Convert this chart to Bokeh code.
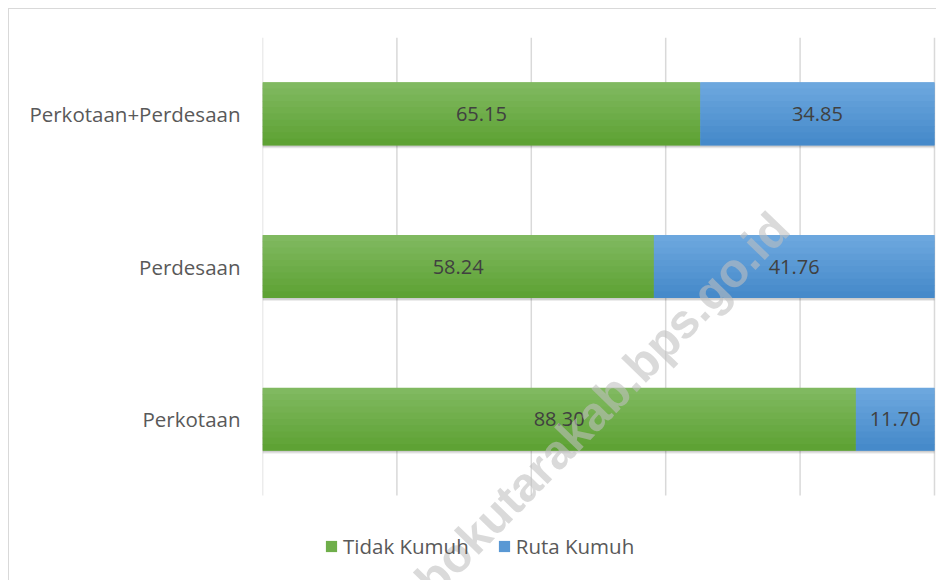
from bokeh.plotting import figure
from bokeh.models import ColumnDataSource, Range1d, FixedTicker, Legend, LegendItem, Label
from bokeh.transform import dodge
from bokeh.core.properties import value
from bokeh.embed import file_html
from bokeh.resources import INLINE

# Data (bottom to top)
categories = ["Perkotaan", "Perdesaan", "Perkotaan+Perdesaan"]
tidak_kumuh = [88.30, 58.24, 65.15]
ruta_kumuh = [11.70, 41.76, 34.85]
series_names = ["Tidak Kumuh", "Ruta Kumuh"]
grid_ticks = [0, 20, 40, 60, 80, 100]

# gradient colours (top -> bottom)
GREEN_TOP, GREEN_BOT = (0x80, 0xB9, 0x60), (0x5E, 0xA2, 0x34)
BLUE_TOP, BLUE_BOT = (0x6C, 0xA7, 0xDE), (0x46, 0x8A, 0xCA)

ypos = [i + 0.5 for i in range(len(categories))]
n_cat = len(categories)

src = ColumnDataSource(dict(
    ypos=ypos,
    tidak=tidak_kumuh,
    ruta=ruta_kumuh,
    zero=[0] * n_cat,
    total=[a + b for a, b in zip(tidak_kumuh, ruta_kumuh)],
    tidak_mid=[a / 2 for a in tidak_kumuh],
    ruta_mid=[a + b / 2 for a, b in zip(tidak_kumuh, ruta_kumuh)],
    tidak_lbl=[f"{v:.2f}" for v in tidak_kumuh],
    ruta_lbl=[f"{v:.2f}" for v in ruta_kumuh],
))

p = figure(
    y_range=Range1d(-0.563, n_cat),
    x_range=Range1d(0, 100.3),
    width=928, height=572,
    output_backend="svg", toolbar_location=None,
    min_border_left=253, min_border_right=1, min_border_top=28, min_border_bottom=0,
)
p.styles = {"margin-left": "8px", "margin-top": "8px",
            "border-top": "1px solid #d9d9d9", "border-left": "1px solid #d9d9d9"}
p.outline_line_color = None
p.background_fill_color = "white"
p.border_fill_color = "white"

# axes / grid
p.xaxis.visible = False
p.xgrid.visible = False
p.ygrid.visible = False
yax = p.yaxis[0]
yax.ticker = FixedTicker(ticks=ypos)
yax.major_label_overrides = {y: c for y, c in zip(ypos, categories)}
yax.axis_line_color = None
yax.major_tick_line_color = None
yax.minor_tick_line_color = None
yax.major_tick_out = 0
yax.major_tick_in = 0
yax.major_label_standoff = 22
yax.major_label_text_font = "Open Sans"
yax.major_label_text_font_size = "20.5px"
yax.major_label_text_color = "#595959"

# vertical grid lines over the category band
p.segment(x0=grid_ticks, y0=[0] * len(grid_ticks), x1=grid_ticks, y1=[n_cat] * len(grid_ticks),
          line_color="#d9d9d9", line_width=1.5)

BAR_H = 0.41
N_SLICES = 10

# shadow
p.hbar(y=dodge("ypos", -0.02), left="zero", right="total", height=BAR_H,
       source=src, fill_color="black", fill_alpha=0.10, line_color=None)
p.hbar(y=dodge("ypos", -0.012), left="zero", right="total", height=BAR_H,
       source=src, fill_color="black", fill_alpha=0.10, line_color=None)


def mix(c1, c2, t):
    return "#%02X%02X%02X" % tuple(round(a + (b - a) * t) for a, b in zip(c1, c2))


# main stacked bars (base, used for the legend)
rs = p.hbar_stack(["tidak", "ruta"], y="ypos", height=BAR_H,
                  color=[mix(GREEN_TOP, GREEN_BOT, 0.5), mix(BLUE_TOP, BLUE_BOT, 0.5)],
                  source=src, line_color=None)

# vertical gradient slices over each segment
sh = BAR_H / N_SLICES
for j in range(N_SLICES):
    off = BAR_H / 2 - sh * (j + 0.5)
    t = j / (N_SLICES - 1)
    p.hbar(y=dodge("ypos", off), left="zero", right="tidak", height=sh * 1.08,
           source=src, fill_color=mix(GREEN_TOP, GREEN_BOT, t), line_color=None)
    p.hbar(y=dodge("ypos", off), left="tidak", right="total", height=sh * 1.08,
           source=src, fill_color=mix(BLUE_TOP, BLUE_BOT, t), line_color=None)

for xcol, tcol in (("tidak_mid", "tidak_lbl"), ("ruta_mid", "ruta_lbl")):
    p.text(x=xcol, y="ypos", text=tcol, source=src, text_align="center",
           text_baseline="middle", text_font=value("Open Sans"),
           text_font_size="20px", text_color="#404040")

# watermark (screen units, relative to the plot frame's bottom-left)
wm = Label(x=518, y=361, x_units="screen", y_units="screen",
           text="lombokutarakab.bps.go.id", angle=0.8,
           text_align="right", text_baseline="middle",
           text_font="Liberation Sans", text_font_size="48px", text_font_style="bold",
           text_color="#bfbfbf", text_alpha=0.58)
p.add_layout(wm)

legend = Legend(
    items=[LegendItem(label=series_names[0], renderers=[rs[0]]),
           LegendItem(label=series_names[1], renderers=[rs[1]])],
    orientation="horizontal", location=(62, 21),
    glyph_width=14, glyph_height=14,
    label_text_font="Open Sans", label_text_font_size="20.5px", label_text_color="#595959",
    border_line_color=None, background_fill_alpha=0,
    padding=0, margin=0, spacing=28, label_standoff=5,
)
p.add_layout(legend)

open("out.html", "w").write(file_html(p, INLINE))
